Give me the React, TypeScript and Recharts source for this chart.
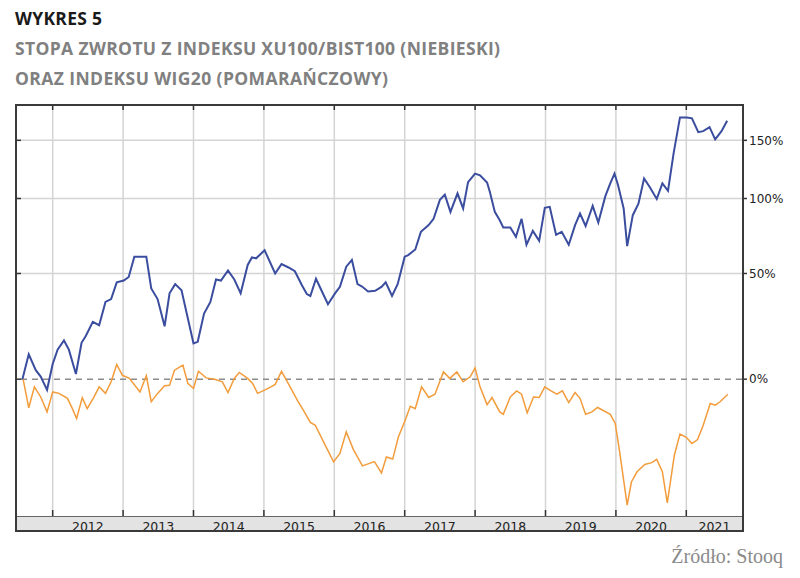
import { LineChart, Line, XAxis, YAxis, CartesianGrid, ReferenceLine } from "recharts"

// dates as decimal years, returns in % since start
const blueDates = [
    2011.57, 2011.66, 2011.76, 2011.83, 2011.92, 2012.0, 2012.07, 2012.16, 2012.23, 2012.33,
    2012.41, 2012.47, 2012.57, 2012.66, 2012.75, 2012.83, 2012.91, 2013.01, 2013.08, 2013.16,
    2013.33, 2013.4, 2013.49, 2013.59, 2013.66, 2013.74, 2013.83, 2014.0, 2014.06, 2014.15,
    2014.24, 2014.32, 2014.39, 2014.49, 2014.58, 2014.67, 2014.77, 2014.83, 2014.89, 2015.01,
    2015.16, 2015.25, 2015.35, 2015.44, 2015.54, 2015.61, 2015.66, 2015.74, 2015.82, 2015.91,
    2016.01, 2016.08, 2016.17, 2016.25, 2016.33, 2016.39, 2016.48, 2016.58, 2016.67, 2016.73,
    2016.82, 2016.9, 2017.0, 2017.05, 2017.15, 2017.23, 2017.34, 2017.41, 2017.5, 2017.57,
    2017.65, 2017.75, 2017.83, 2017.9, 2018.0, 2018.07, 2018.17, 2018.21, 2018.28, 2018.35,
    2018.4, 2018.5, 2018.58, 2018.66, 2018.73, 2018.82, 2018.91, 2018.99, 2019.06, 2019.15,
    2019.23, 2019.33, 2019.42, 2019.49, 2019.57, 2019.67, 2019.75, 2019.85, 2019.92, 2019.98,
    2020.03, 2020.11, 2020.16, 2020.24, 2020.32, 2020.4, 2020.48, 2020.58, 2020.66, 2020.74,
    2020.82, 2020.91, 2021.01, 2021.08, 2021.17, 2021.24, 2021.33, 2021.41, 2021.5, 2021.58,
]
const xu100 = [
    0, 10, 3.5, 1, -4, 6, 12, 16, 12, 2,
    15, 18, 24.6, 23, 34.5, 36, 45, 46, 48, 60,
    60, 41.6, 36, 22.5, 39, 44, 40.7, 14.7, 15.4, 28.6,
    34.5, 46.6, 46, 51.8, 46.6, 39, 55, 59.5, 59, 64,
    50, 55.5, 53.5, 51.3, 43.4, 38.6, 37.6, 47, 40.4, 33.3,
    39, 42.5, 54, 58, 44, 42.8, 40, 40.4, 42.5, 45,
    37.6, 44, 60, 61, 64.5, 76, 80.6, 85, 99, 103,
    90, 104, 92.5, 113, 120, 118.6, 112.6, 105, 90, 84,
    79, 79, 72.7, 85, 67.5, 76.6, 70, 93, 93.7, 74,
    76, 67.5, 80.6, 88.8, 80, 94.4, 82.4, 101.8, 112, 120,
    110.6, 92.5, 66.6, 87.6, 96, 116, 109, 99.6, 112, 106,
    138, 173, 173, 172, 158, 159, 163, 151, 159, 169.5,
]

const orangeDates = [
    2011.58, 2011.66, 2011.74, 2011.83, 2011.92, 2012.0, 2012.09, 2012.21, 2012.28, 2012.34,
    2012.42, 2012.49, 2012.58, 2012.66, 2012.75, 2012.83, 2012.91, 2012.99, 2013.09, 2013.24,
    2013.33, 2013.4, 2013.49, 2013.59, 2013.66, 2013.73, 2013.85, 2013.92, 2014.0, 2014.07,
    2014.18, 2014.3, 2014.41, 2014.49, 2014.58, 2014.65, 2014.77, 2014.84, 2014.91, 2015.01,
    2015.1, 2015.16, 2015.25, 2015.32, 2015.48, 2015.56, 2015.66, 2015.73, 2015.86, 2015.99,
    2016.08, 2016.17, 2016.27, 2016.4, 2016.57, 2016.67, 2016.74, 2016.83, 2016.91, 2017.0,
    2017.08, 2017.15, 2017.24, 2017.34, 2017.43, 2017.55, 2017.64, 2017.74, 2017.83, 2017.93,
    2018.0, 2018.07, 2018.17, 2018.24, 2018.35, 2018.4, 2018.5, 2018.59, 2018.66, 2018.74,
    2018.83, 2018.91, 2018.99, 2019.06, 2019.16, 2019.24, 2019.33, 2019.42, 2019.49, 2019.57,
    2019.66, 2019.74, 2019.92, 2019.99, 2020.05, 2020.16, 2020.22, 2020.3, 2020.41, 2020.51,
    2020.58, 2020.66, 2020.73, 2020.83, 2020.91, 2021.0, 2021.08, 2021.16, 2021.24, 2021.34,
    2021.41, 2021.48, 2021.59,
]
const wig20 = [
    0, -10.4, -2.9, -6.6, -11.8, -4.8, -5.3, -7.1, -10.7, -14,
    -6.9, -10.7, -6.9, -2.9, -5.3, -1, 5.8, 1.5, 0.3, -4.8,
    1.3, -8.3, -5.3, -2.5, -2.3, 3.5, 5.5, -1.6, -3.5, 3.1,
    0.5, 0, -1, -5, 0.3, 2.6, 0.3, -1.6, -5.3, -4.1,
    -2.9, -2, 3, -0.4, -8, -11.2, -15.3, -16.2, -21.9, -27.2,
    -24.8, -18.3, -23.6, -28.3, -27.1, -30.2, -25.8, -26.4, -19.9, -15,
    -9.9, -10.7, -2.9, -6.8, -5.6, 2.8, 0.3, 2.8, -1, 0.9,
    4.4, -2.9, -9.3, -6.8, -11.8, -12.6, -6.6, -4.4, -5.6, -12.1,
    -6.6, -6.8, -2.9, -4.1, -5.6, -4.4, -8.6, -5, -7.1, -12.6,
    -11.8, -10.3, -12.6, -15.6, -23.9, -38.3, -32.6, -29.9, -27.9, -27.4,
    -26.5, -29.9, -37.8, -25.3, -19, -20, -21.9, -20.7, -16.2, -8.9,
    -9.5, -8.3, -5.6,
]

const yearTicks = [2012, 2013, 2014, 2015, 2016, 2017, 2018, 2019, 2020, 2021]
const yearLabelTicks = [2012.5, 2013.5, 2014.5, 2015.5, 2016.5, 2017.5, 2018.5, 2019.5, 2020.5, 2021.4]
const pctTicks = [0, 50, 100, 150]
const gridPct = [50, 100, 150]

// log scale on index level (100 = start)
const toLevel = (r: number) => 100 + r
const blueData = blueDates.map((t, i) => ({ t, v: toLevel(xu100[i]) }))
const orangeData = orangeDates.map((t, i) => ({ t, v: toLevel(wig20[i]) }))

const X_DOMAIN = [2011.479, 2021.791]
const Y_DOMAIN = [59.16, 286.3]
const axisFont = { fontSize: 12, fill: "#222", fontFamily: "DejaVu Sans" }
const tickStroke = { stroke: "#333", strokeWidth: 1.5 }
const NoLabel = () => <g />

export default function App() {
    return (
        <div style={{ position: "absolute", left: 0, top: 0, width: 800, height: 578, background: "#fff" }}>
            <div
                style={{
                    position: "absolute",
                    left: 17,
                    top: 516,
                    width: 725,
                    height: 15,
                    background: "#e3e3e3",
                    borderTop: "1px solid #666",
                    boxSizing: "border-box",
                }}
            />
            <div style={{ position: "absolute", left: 0, top: 0 }}>
                <LineChart width={800} height={578} margin={{ top: 105, right: 8, bottom: 47, left: 16 }}>
                    <CartesianGrid
                        xAxisId="years"
                        yAxisId="pct"
                        stroke="#d4d4d4"
                        strokeWidth={1.5}
                        verticalValues={yearTicks}
                        horizontalValues={gridPct.map(toLevel)}
                    />
                    {/* inward tick marks on the frame */}
                    <XAxis
                        xAxisId="bounds"
                        dataKey="t"
                        type="number"
                        orientation="top"
                        mirror
                        height={1}
                        domain={X_DOMAIN}
                        allowDataOverflow
                        ticks={yearTicks}
                        tick={NoLabel}
                        tickSize={5}
                        axisLine={false}
                        tickLine={tickStroke}
                    />
                    <XAxis
                        xAxisId="boundsBottom"
                        dataKey="t"
                        type="number"
                        orientation="bottom"
                        mirror
                        height={1}
                        domain={X_DOMAIN}
                        allowDataOverflow
                        ticks={yearTicks}
                        tick={NoLabel}
                        tickSize={6}
                        axisLine={false}
                        tickLine={tickStroke}
                    />
                    <XAxis
                        xAxisId="years"
                        dataKey="t"
                        type="number"
                        height={15}
                        domain={X_DOMAIN}
                        allowDataOverflow
                        ticks={yearLabelTicks}
                        tickFormatter={(v: number) => String(Math.floor(v))}
                        tick={{ ...axisFont, fontSize: 12.5 }}
                        tickLine={false}
                        axisLine={false}
                        tickMargin={0}
                    />
                    <YAxis
                        yAxisId="pct"
                        orientation="right"
                        type="number"
                        scale="log"
                        width={50}
                        domain={Y_DOMAIN}
                        allowDataOverflow
                        ticks={pctTicks.map(toLevel)}
                        tickFormatter={(v: number) => `${Math.round(v - 100)}%`}
                        tick={axisFont}
                        tickSize={5}
                        tickMargin={2}
                        axisLine={false}
                        tickLine={tickStroke}
                    />
                    <YAxis
                        yAxisId="pctLeft"
                        orientation="left"
                        mirror
                        type="number"
                        scale="log"
                        width={1}
                        domain={Y_DOMAIN}
                        allowDataOverflow
                        ticks={pctTicks.map(toLevel)}
                        tick={NoLabel}
                        tickSize={5}
                        axisLine={false}
                        tickLine={tickStroke}
                    />
                    <ReferenceLine
                        xAxisId="years"
                        yAxisId="pct"
                        y={100}
                        stroke="#8c8c8c"
                        strokeWidth={1.5}
                        strokeDasharray="6 5"
                    />
                    <Line
                        data={orangeData}
                        xAxisId="years"
                        yAxisId="pct"
                        dataKey="v"
                        type="linear"
                        stroke="#f29c3c"
                        strokeWidth={1.5}
                        dot={false}
                        isAnimationActive={false}
                    />
                    <Line
                        data={blueData}
                        xAxisId="years"
                        yAxisId="pct"
                        dataKey="v"
                        type="linear"
                        stroke="#3b4d9e"
                        strokeWidth={2}
                        dot={false}
                        isAnimationActive={false}
                    />
                </LineChart>
            </div>
            <div
                style={{
                    position: "absolute",
                    left: 15,
                    top: 104,
                    width: 729,
                    height: 428,
                    border: "2px solid #3a3a3a",
                    boxSizing: "border-box",
                }}
            />
            <svg width={800} height={578} style={{ position: "absolute", left: 0, top: 0, pointerEvents: "none" }}>
                <g fontFamily="Open Sans" fontWeight={700} fontSize={17.5}>
                    <text x={15} y={25} fill="#1a1a1a" textLength={87} lengthAdjust="spacing">WYKRES 5</text>
                    <text x={15} y={55} fill="#808080" textLength={485} lengthAdjust="spacing">
                        STOPA ZWROTU Z INDEKSU XU100/BIST100 (NIEBIESKI)
                    </text>
                    <text x={15} y={85} fill="#808080" textLength={373} lengthAdjust="spacing">
                        ORAZ INDEKSU WIG20 (POMARAŃCZOWY)
                    </text>
                </g>
                <text x={783} y={563} textAnchor="end" fontFamily="Liberation Serif" fontSize={20} fill="#8a8a8a">
                    Źródło: Stooq
                </text>
            </svg>
        </div>
    )
}
